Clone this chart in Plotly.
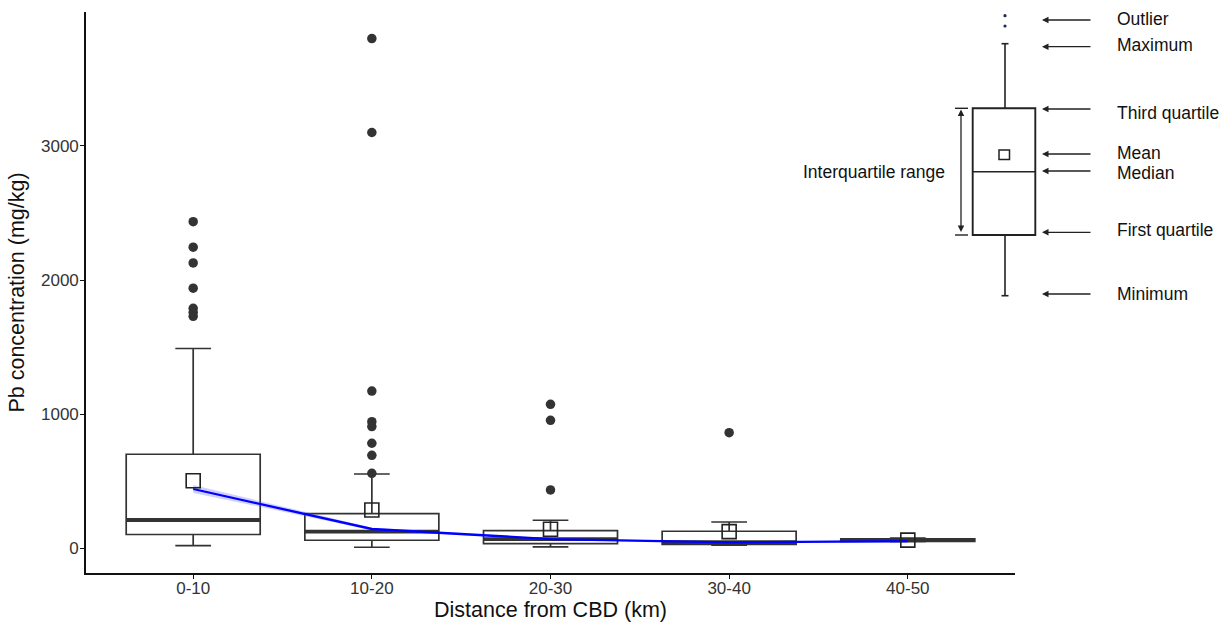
import plotly.graph_objects as go

# ---------------- data ----------------
categories = ["0-10", "10-20", "20-30", "30-40", "40-50"]
q1 = [104, 61, 36, 31, 52]
median = [212, 125, 69, 46, 62]
q3 = [702, 259, 133, 128, 72]
lower_whisker = [21, 9, 11, 24, 50]
upper_whisker = [1490, 555, 210, 197, 78]
means = [505, 287, 143, 125, 62]

outliers = {
    "0-10": [2435, 2245, 2128, 1940, 1790, 1760, 1730],
    "10-20": [3800, 3100, 1173, 945, 908, 784, 694, 560],
    "20-30": [1074, 955, 436],
    "30-40": [863],
    "40-50": [],
}

smooth_fit = [443, 145, 70, 45, 55]
smooth_upper = [472, 154, 76, 50, 63]
smooth_lower = [414, 136, 64, 40, 47]

# ---------------- layout constants ----------------
W, H = 1223, 624
ML, MR, MT, MB = 86, 208, 12, 51
PW, PH = W - ML - MR, H - MT - MB

def px(x):
    return (x - ML) / PW

def py(y):
    return (H - MB - y) / PH

FONT = "Liberation Sans, Arial, Helvetica, sans-serif"
DARK = "#333333"

xs = list(range(len(categories)))
BOXW = 0.75

fig = go.Figure()

fig.add_trace(go.Box(
    x=xs, q1=q1, median=median, q3=q3,
    lowerfence=lower_whisker, upperfence=upper_whisker,
    width=BOXW, whiskerwidth=0.2 / BOXW,
    fillcolor="rgba(255,255,255,0)",
    line=dict(color=DARK, width=1.7),
    boxpoints=False, showlegend=False, hoverinfo="skip",
))

# thick median lines
mx, my = [], []
for i, m in zip(xs, median):
    mx += [i - BOXW / 2, i + BOXW / 2, None]
    my += [m, m, None]
fig.add_trace(go.Scatter(x=mx, y=my, mode="lines",
                         line=dict(color=DARK, width=3.8),
                         showlegend=False, hoverinfo="skip"))

# outliers
ox, oy = [], []
for i, c in enumerate(categories):
    for v in outliers[c]:
        ox.append(i)
        oy.append(v)
fig.add_trace(go.Scatter(x=ox, y=oy, mode="markers",
                         marker=dict(color=DARK, size=9.5),
                         showlegend=False, hoverinfo="skip"))

# smooth band + line
fig.add_trace(go.Scatter(x=xs + xs[::-1], y=smooth_upper + smooth_lower[::-1],
                         fill="toself", fillcolor="rgba(90,90,255,0.28)",
                         line=dict(width=0), mode="lines",
                         showlegend=False, hoverinfo="skip"))
fig.add_trace(go.Scatter(x=xs, y=smooth_fit, mode="lines",
                         line=dict(color="#0000FF", width=2.3),
                         showlegend=False, hoverinfo="skip"))

# means
fig.add_trace(go.Scatter(x=xs, y=means, mode="markers",
                         marker=dict(symbol="square-open", size=14,
                                     color="#222222", line=dict(width=1.6)),
                         showlegend=False, hoverinfo="skip"))

# ---------------- schematic box-plot key ----------------
shapes = []
ann = []
LC = "#222222"
KEYSIZE = 17.5

def line(x0, y0, x1, y1, w=1.6):
    shapes.append(dict(type="line", xref="paper", yref="paper",
                       x0=px(x0), y0=py(y0), x1=px(x1), y1=py(y1),
                       line=dict(color=LC, width=w)))

cx = 1005
line(cx, 43.7, cx, 108.3)
line(cx - 3.5, 43.7, cx + 3.5, 43.7)
shapes.append(dict(type="rect", xref="paper", yref="paper",
                   x0=px(972.7), y0=py(235), x1=px(1035.3), y1=py(108.3),
                   line=dict(color=LC, width=1.9)))
line(972.7, 171.7, 1035.3, 171.7, 1.4)
shapes.append(dict(type="rect", xref="paper", yref="paper",
                   x0=px(999), y0=py(159.5), x1=px(1009.5), y1=py(150),
                   line=dict(color=LC, width=1.5)))
line(cx, 235, cx, 295.7)
line(cx - 3.5, 295.7, cx + 3.5, 295.7)
for oyy in (15.7, 26):
    shapes.append(dict(type="circle", xref="paper", yref="paper",
                       x0=px(cx - 1.6), x1=px(cx + 1.6),
                       y0=py(oyy + 1.6), y1=py(oyy - 1.6),
                       fillcolor="#1b2a4e", line=dict(width=0)))
# IQR bracket
line(955, 108.3, 968, 108.3, 1.4)
line(955, 235, 968, 235, 1.4)
ann.append(dict(xref="paper", yref="paper", x=px(961), y=py(109.5),
                ax=0, ay=124, text="", showarrow=True, arrowside="end+start",
                arrowhead=2, arrowsize=1, arrowwidth=1.3, arrowcolor=LC))
ann.append(dict(xref="paper", yref="paper", x=px(947), y=py(171.7),
                text="Interquartile range", showarrow=False,
                xanchor="right", yanchor="middle",
                font=dict(family=FONT, size=KEYSIZE, color="#111111")))

key_labels = ["Outlier", "Maximum", "Third quartile", "Mean", "Median",
              "First quartile", "Minimum"]
arrow_y = [20, 46.7, 109, 154, 171, 232.3, 294]
label_y = [19, 45, 113, 153, 173, 230, 294]
for lab, ay_, ly in zip(key_labels, arrow_y, label_y):
    ann.append(dict(xref="paper", yref="paper", x=px(1042), y=py(ay_),
                    ax=50, ay=0, text="", showarrow=True,
                    arrowhead=2, arrowsize=1, arrowwidth=1.3, arrowcolor=LC))
    ann.append(dict(xref="paper", yref="paper", x=px(1115), y=py(ly),
                    text=lab, showarrow=False, xanchor="left", yanchor="middle",
                    font=dict(family=FONT, size=KEYSIZE, color="#111111")))

fig.update_layout(
    width=W, height=H,
    margin=dict(l=ML, r=MR, t=MT, b=MB, autoexpand=False),
    paper_bgcolor="white", plot_bgcolor="white",
    font=dict(family=FONT, color="#111111"),
    shapes=shapes, annotations=ann,
    showlegend=False,
)
fig.update_xaxes(
    range=[-0.6, 4.6], tickmode="array", tickvals=xs, ticktext=categories,
    automargin=False,
    showline=True, linecolor="#111111", linewidth=1.6,
    ticks="outside", ticklen=4, tickcolor="#111111", tickwidth=1.2,
    ticklabelstandoff=-5,
    showgrid=False, zeroline=False,
    tickfont=dict(family=FONT, size=17, color=DARK),
    title=dict(text="Distance from CBD (km)", standoff=2,
               font=dict(family=FONT, size=21.5, color="#111111")),
)
fig.update_yaxes(
    range=[-183, 3998], tickvals=[0, 1000, 2000, 3000],
    automargin=False,
    showline=True, linecolor="#111111", linewidth=1.6,
    ticks="outside", ticklen=4, tickcolor="#111111", tickwidth=1.2,
    ticklabelstandoff=-2,
    showgrid=False, zeroline=False,
    tickfont=dict(family=FONT, size=17, color=DARK),
    title=dict(text="Pb concentration (mg/kg)", standoff=10,
               font=dict(family=FONT, size=21.5, color="#111111")),
)

fig.write_html("out.html")
